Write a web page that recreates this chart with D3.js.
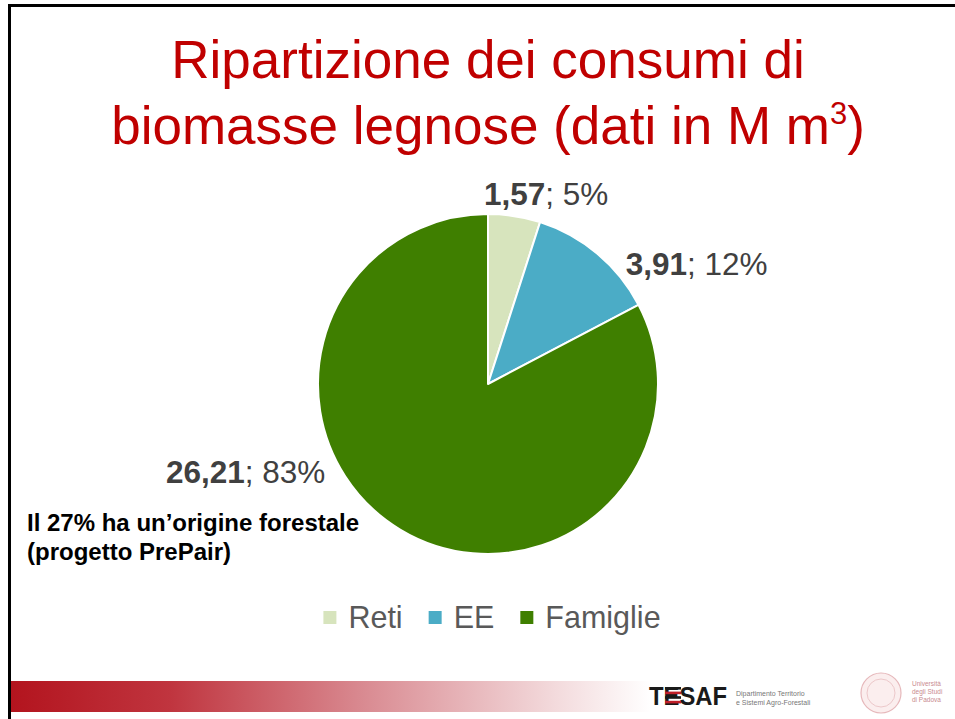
<!DOCTYPE html>
<html>
<head>
<meta charset="utf-8">
<script src="https://cdn.jsdelivr.net/npm/d3@7"></script>
<style>
  body { margin: 0; background: #fff; }
  svg { display: block; font-family: "Liberation Sans", Arial, sans-serif; }
</style>
</head>
<body>
<script>
// data (M m3)
var categories = ["Reti", "EE", "Famiglie"];
var values = [1.57, 3.91, 26.21];
var valueLabels = ["1,57", "3,91", "26,21"];
var percentLabels = ["5%", "12%", "83%"];
var colors = ["#d7e4bd", "#4bacc6", "#3f7f00"];

var titleLines = ["Ripartizione dei consumi di", "biomasse legnose (dati in M m"];
var noteLines = ["Il 27% ha un\u2019origine forestale", "(progetto PrePair)"];

// where excel put the data labels: [angle in deg from 12 o'clock, distance from centre]
var labelPolar = [[17, 199], [60, 241], [250, 258]];

var W = 955, H = 719;
var cx = 488, cy = 384, radius = 170;

var svg = d3.select("body").append("svg")
    .attr("width", W)
    .attr("height", H);

var defs = svg.append("defs");
var grad = defs.append("linearGradient")
    .attr("id", "barGrad")
    .attr("x1", "0%").attr("x2", "100%")
    .attr("y1", "0%").attr("y2", "0%");
grad.append("stop").attr("offset", "0%").attr("stop-color", "#b3141e");
grad.append("stop").attr("offset", "25%").attr("stop-color", "#c0353f");
grad.append("stop").attr("offset", "55%").attr("stop-color", "#d98a91");
grad.append("stop").attr("offset", "85%").attr("stop-color", "#f3dadc");
grad.append("stop").attr("offset", "100%").attr("stop-color", "#ffffff");

// slide frame
svg.append("rect")
    .attr("x", 9.5)
    .attr("y", 5.5)
    .attr("width", W + 10)
    .attr("height", H + 10)
    .attr("fill", "none")
    .attr("stroke", "#000")
    .attr("stroke-width", 3);

// title
var title = svg.append("text")
    .attr("text-anchor", "middle")
    .attr("fill", "#c00000")
    .attr("font-size", 53);
title.append("tspan")
    .attr("x", cx)
    .attr("y", 78)
    .text(titleLines[0]);
title.append("tspan")
    .attr("x", cx)
    .attr("y", 144)
    .text(titleLines[1]);
title.append("tspan")
    .attr("font-size", 31)
    .attr("dy", -20)
    .text("3");
title.append("tspan")
    .attr("dy", 20)
    .text(")");

// pie
var pie = d3.pie().sort(null).value(function(d) { return d; });
var arc = d3.arc().innerRadius(0).outerRadius(radius);
var arcs = pie(values);

var g = svg.append("g")
    .attr("transform", "translate(" + cx + "," + cy + ")");

g.selectAll("path")
    .data(arcs)
    .enter().append("path")
    .attr("d", arc)
    .attr("fill", function(d, i) { return colors[i]; })
    .attr("stroke", "#fff")
    .attr("stroke-width", 2)
    .attr("stroke-linejoin", "round");

// data labels
var labels = g.selectAll("text.lab")
    .data(arcs)
    .enter().append("text")
    .attr("class", "lab")
    .attr("font-size", 31.5)
    .attr("fill", "#404040")
    .attr("text-anchor", "middle")
    .attr("dominant-baseline", "central")
    .attr("x", function(d, i) { return labelPolar[i][1] * Math.sin(labelPolar[i][0] * Math.PI / 180); })
    .attr("y", function(d, i) { return -labelPolar[i][1] * Math.cos(labelPolar[i][0] * Math.PI / 180); });
labels.append("tspan")
    .attr("font-weight", "bold")
    .text(function(d, i) { return valueLabels[i]; });
labels.append("tspan")
    .text(function(d, i) { return "; " + percentLabels[i]; });

// note
var note = svg.append("text")
    .attr("font-size", 24)
    .attr("font-weight", "bold")
    .attr("fill", "#000");
note.selectAll("tspan")
    .data(noteLines)
    .enter().append("tspan")
    .attr("x", 27)
    .attr("y", function(d, i) { return 531 + i * 29; })
    .text(function(d) { return d; });

// legend
var legend = svg.append("g");
var items = legend.selectAll("g")
    .data(categories)
    .enter().append("g");
items.append("rect")
    .attr("width", 13)
    .attr("height", 13)
    .attr("y", -7)
    .attr("fill", function(d, i) { return colors[i]; });
items.append("text")
    .attr("x", 25)
    .attr("y", 10)
    .attr("font-size", 30.5)
    .attr("fill", "#595959")
    .text(function(d) { return d; });

var lx = 0;
items.each(function() {
    var item = d3.select(this);
    item.attr("transform", "translate(" + lx + ",0)");
    lx += this.getBBox().width + 26;
});
lx -= 26;
legend.attr("transform", "translate(" + (cx + 4 - lx / 2) + ",618)");

// footer bar
svg.append("rect")
    .attr("x", 11)
    .attr("y", 681)
    .attr("width", 640)
    .attr("height", 31)
    .attr("fill", "url(#barGrad)");

// TESAF logo
var logo = svg.append("g").attr("transform", "translate(649,705)");
logo.append("text")
    .attr("font-size", 25)
    .attr("font-weight", "bold")
    .attr("fill", "#1a1a1a")
    .attr("textLength", 78)
    .attr("lengthAdjust", "spacingAndGlyphs")
    .text("TESAF");
logo.selectAll("rect.st")
    .data([0, 1, 2, 3])
    .enter().append("rect")
    .attr("x", 16)
    .attr("y", function(d) { return -18 + d * 4.6; })
    .attr("width", 16)
    .attr("height", 2.6)
    .attr("fill", function(d) { return d % 2 ? "#c0202a" : "#1a1a1a"; });
logo.append("text")
    .attr("x", 87)
    .attr("y", -9)
    .attr("font-size", 7)
    .attr("fill", "#777")
    .text("Dipartimento Territorio");
logo.append("text")
    .attr("x", 87)
    .attr("y", 0)
    .attr("font-size", 7)
    .attr("fill", "#777")
    .text("e Sistemi Agro-Forestali");

// university seal
var uni = svg.append("g").attr("transform", "translate(881,693)");
uni.append("circle")
    .attr("r", 20)
    .attr("fill", "#fbeeee")
    .attr("stroke", "#e6b8bb")
    .attr("stroke-width", 1.2);
uni.append("circle")
    .attr("r", 14)
    .attr("fill", "none")
    .attr("stroke", "#ecc8ca")
    .attr("stroke-width", 1);
["Universit\u00e0", "degli Studi", "di Padova"].forEach(function(s, i) {
    uni.append("text")
        .attr("x", 31)
        .attr("y", -7 + i * 8)
        .attr("font-size", 6.5)
        .attr("fill", "#c98a8f")
        .text(s);
});
</script>
</body>
</html>
